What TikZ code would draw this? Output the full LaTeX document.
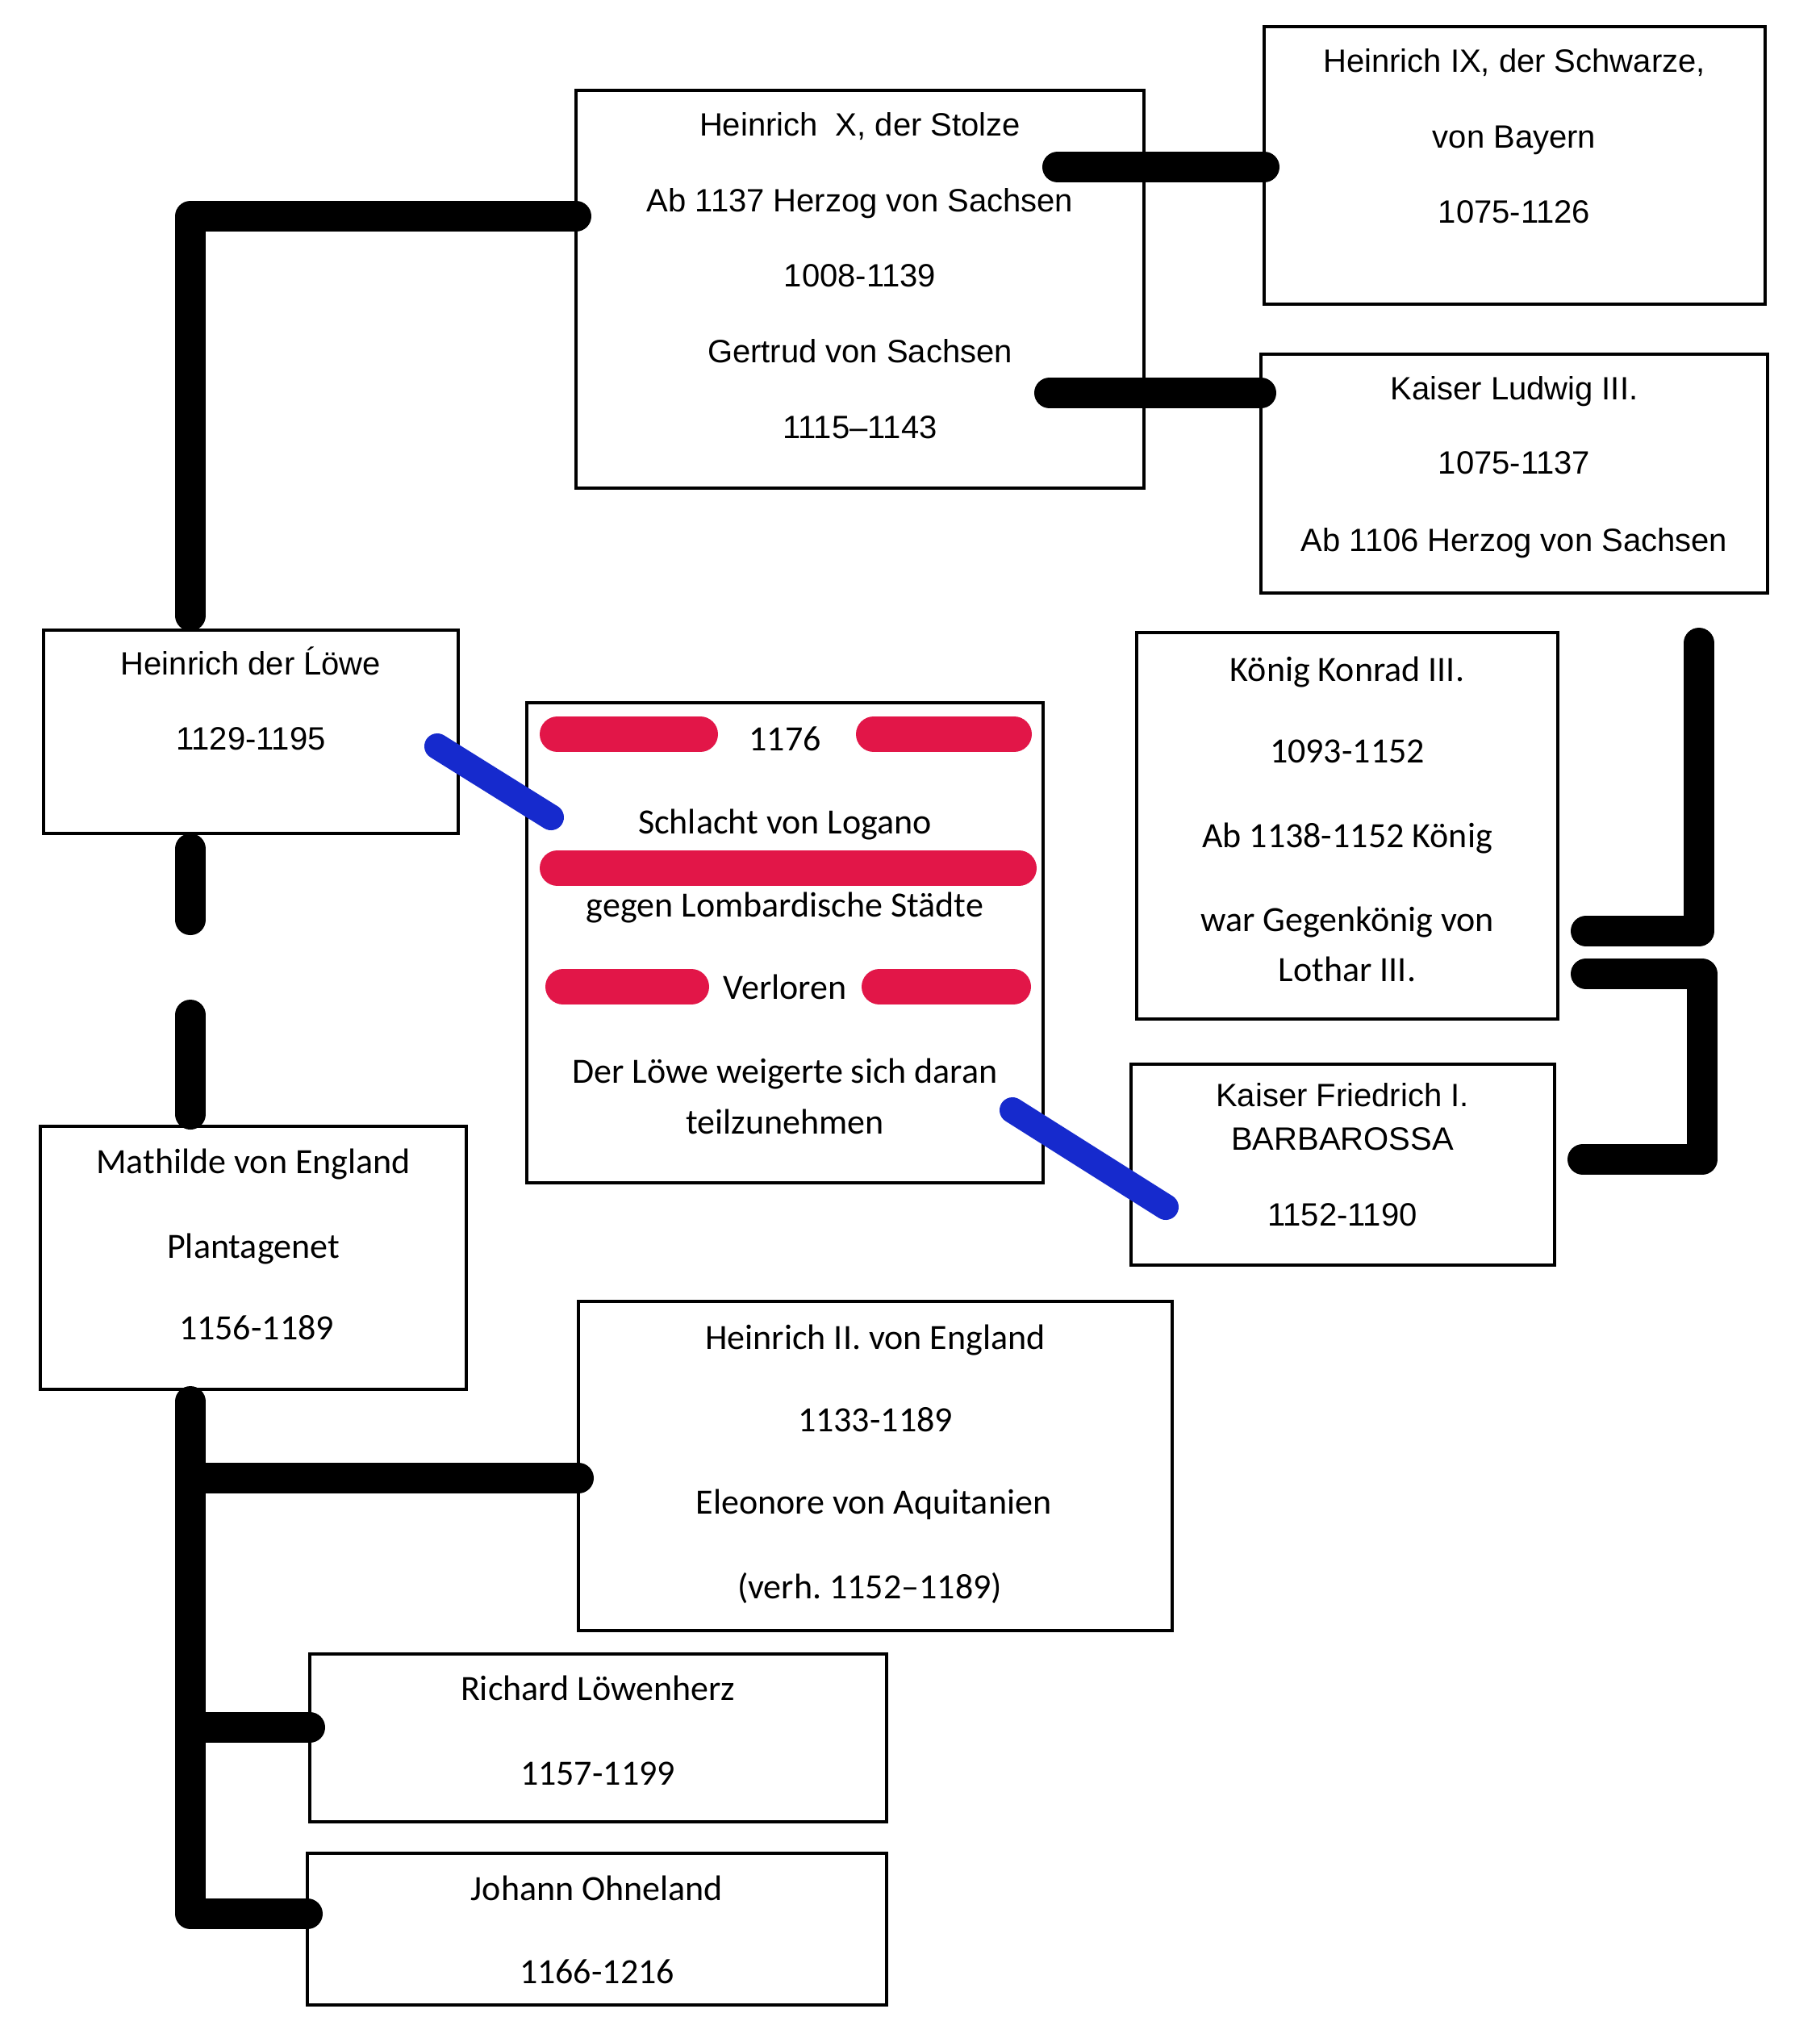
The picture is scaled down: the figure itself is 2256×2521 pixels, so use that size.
\documentclass[tikz,border=0pt]{standalone}
\usepackage{fontspec}
\setmainfont{Liberation Sans}
\newfontfamily\calib{Carlito}
\definecolor{mred}{RGB}{226,22,72}
\definecolor{mblue}{RGB}{22,42,205}
\newcommand\fbx[5]{\node[box, minimum width={(#4-#2)*0.25pt}, minimum height={(#5-#3)*0.25pt}] (#1) at ({(#2+#4)/2},{(#3+#5)/2}) {};}
\frenchspacing
\begin{document}
\begin{tikzpicture}[x=0.25pt,y=-0.25pt,
  box/.style={draw=black, line width=0.8pt, inner sep=0pt, outer sep=0pt},
  ar/.style={font=\fontsize{10}{12}\selectfont, anchor=base, inner sep=0pt},
  ca/.style={font=\calib\fontsize{11}{13}\selectfont, anchor=base, inner sep=0pt},
  blk/.style={line width=9.5pt, line cap=round, line join=round, black},
  blu/.style={line width=8pt, line cap=round, mblue},
  redm/.style={line width=11pt, line cap=round, mred}]
\fill[white] (0,0) rectangle (2256,2521);
\useasboundingbox (0,0) rectangle (2256,2521);

% boxes
\fbx{hx}{714}{112}{1418}{605}
\fbx{hix}{1567}{33}{2188}{377}
\fbx{lud}{1563}{439}{2191}{735}
\fbx{loewe}{54}{781}{568}{1033}
\fbx{battle}{653}{871}{1293}{1466}
\fbx{konrad}{1409}{784}{1931}{1263}
\fbx{fried}{1402}{1319}{1927}{1568}
\fbx{math}{50}{1396}{578}{1722}
\fbx{hii}{717}{1613}{1453}{2021}
\fbx{rich}{384}{2050}{1099}{2258}
\fbx{joh}{381}{2297}{1099}{2485}

% texts
\node[ar] (hx1) at (1066,168) {Heinrich~ X, der Stolze};
\node[ar] (hx2) at (1066,262) {Ab 1137 Herzog von Sachsen};
\node[ar] (hx3) at (1066,355) {1008-1139};
\node[ar] (hx4) at (1066,449) {Gertrud von Sachsen};
\node[ar] (hx5) at (1066,543) {1115–1143};

\node[ar] (hix1) at (1877,89) {Heinrich IX, der Schwarze,};
\node[ar] (hix2) at (1877,183) {von Bayern};
\node[ar] (hix3) at (1877,276) {1075-1126};

\node[ar] (lud1) at (1877,495) {Kaiser Ludwig III.};
\node[ar] (lud2) at (1877,587) {1075-1137};
\node[ar] (lud3) at (1877,683) {Ab 1106 Herzog von Sachsen};

\node[ar] (lw1) at (311,836) {Heinrich der Ĺöwe};
\node[ar] (lw2) at (311,929) {1129-1195};

\node[ca] (bt1) at (973,930) {1176};
\node[ca] (bt2) at (973,1033) {Schlacht von Logano};
\node[ca] (bt3) at (973,1136) {gegen Lombardische Städte};
\node[ca] (bt4) at (973,1238) {Verloren};
\node[ca] (bt5) at (973,1342) {Der Löwe weigerte sich daran};
\node[ca] (bt6) at (973,1405) {teilzunehmen};

\node[ca] (kk1) at (1670,844) {König Konrad III.};
\node[ca] (kk2) at (1670,945) {1093-1152};
\node[ca] (kk3) at (1670,1050) {Ab 1138-1152 König};
\node[ca] (kk4) at (1670,1154) {war Gegenkönig von};
\node[ca] (kk5) at (1670,1216) {Lothar III.};

\node[ar] (fr1) at (1664,1371) {Kaiser Friedrich I.};
\node[ar] (fr2) at (1664,1425) {BARBAROSSA};
\node[ar] (fr3) at (1664,1519) {1152-1190};

\node[ca] (ma1) at (314,1454) {Mathilde von England};
\node[ca] (ma2) at (314,1559) {Plantagenet};
\node[ca] (ma3) at (318,1660) {1156-1189};

\node[ca] (h21) at (1085,1672) {Heinrich II. von England};
\node[ca] (h22) at (1085,1774) {1133-1189};
\node[ca] (h23) at (1083,1876) {Eleonore von Aquitanien};
\node[ca] (h24) at (1078,1981) {(verh. 1152–1189)};

\node[ca] (ri1) at (741,2107) {Richard Löwenherz};
\node[ca] (ri2) at (741,2212) {1157-1199};

\node[ca] (jo1) at (740,2355) {Johann Ohneland};
\node[ca] (jo2) at (740,2458) {1166-1216};

% red marker strokes
\draw[redm] (691,910) -- (868,910);
\draw[redm] (1083,910) -- (1257,910);
\draw[redm] (691,1076) -- (1263,1076);
\draw[redm] (698,1223) -- (857,1223);
\draw[redm] (1090,1223) -- (1256,1223);

% coordinates for free ends
\coordinate (tx) at (236,268);
\coordinate (tb) at (236,763);
\coordinate (b1) at (1311,207);
\coordinate (b2) at (1301,487);
\coordinate (d0) at (236,1052);
\coordinate (d1) at (236,1140);
\coordinate (d2) at (236,1258);
\coordinate (d3) at (236,1381);
\coordinate (m0) at (236,1737);
\coordinate (m1) at (236,1832);
\coordinate (m2) at (236,2141);
\coordinate (m3) at (236,2372);
\coordinate (e1) at (542,925);
\coordinate (e2) at (683,1013);
\coordinate (f1) at (1255,1376);
\coordinate (f2) at (1445,1496);
\coordinate (g1a) at (2106,797);
\coordinate (g1b) at (2106,1154);
\coordinate (g1c) at (1966,1154);
\coordinate (g2a) at (1966,1207);
\coordinate (g2b) at (2110,1207);
\coordinate (g2c) at (2110,1437);
\coordinate (g2d) at (1962,1437);

% black connectors
\draw[blk] (hx.west |- tx) -- (tx) -- (tb);
\draw[blk] (b1) -- (hix.west |- b1);
\draw[blk] (b2) -- (lud.west |- b2);
\draw[blk] (d0) -- (d1);
\draw[blk] (d2) -- (d3);
\draw[blk] (m0) -- (m3) -- (joh.west |- m3);
\draw[blk] (m1) -- (hii.west |- m1);
\draw[blk] (m2) -- (rich.west |- m2);
\draw[blk] (g1a) -- (g1b) -- (g1c);
\draw[blk] (g2a) -- (g2b) -- (g2c) -- (g2d);

% blue connectors
\draw[blu] (e1) -- (e2);
\draw[blu] (f1) -- (f2);
\end{tikzpicture}
\end{document}
